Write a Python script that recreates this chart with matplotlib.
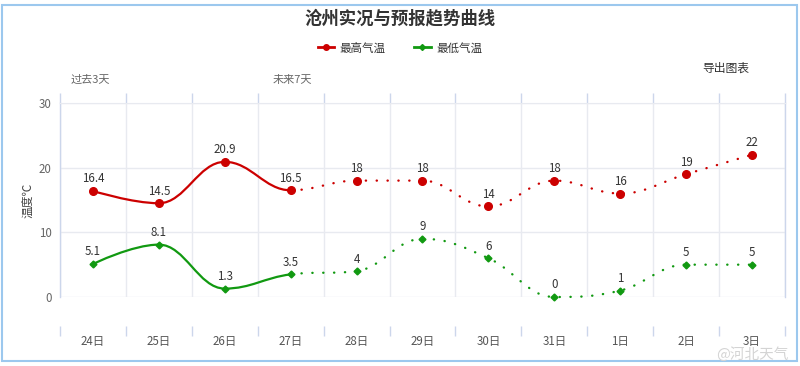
import numpy as np
import matplotlib
matplotlib.use('Agg')
import matplotlib.pyplot as plt
from matplotlib.path import Path
from matplotlib.patches import PathPatch, Rectangle
from matplotlib.lines import Line2D

plt.rcParams['font.family'] = ['Noto Sans CJK SC', 'DejaVu Sans']

# data
days = ['24日', '25日', '26日', '27日', '28日', '29日', '30日', '31日', '1日', '2日', '3日']
high = [16.4, 14.5, 20.9, 16.5, 18, 18, 14, 18, 16, 19, 22]
low = [5.1, 8.1, 1.3, 3.5, 4, 9, 6, 0, 1, 5, 5]
n_past = 4  # first 4 points are observed (solid), rest are forecast (dotted)

RED = '#cc0000'
GREEN = '#119911'
GRID = '#e8eaf0'
AXIS = '#ccd6eb'


# Highcharts-like spline: returns list of bezier segments
def spline_segments(xs, ys, smoothing=1.5):
    n = len(xs)
    right = [None] * n
    left = [None] * n
    denom = smoothing + 1
    for i in range(1, n - 1):
        px, py = xs[i], ys[i]
        lx, ly = xs[i - 1], ys[i - 1]
        nx, ny = xs[i + 1], ys[i + 1]
        lcx = (smoothing * px + lx) / denom
        lcy = (smoothing * py + ly) / denom
        rcx = (smoothing * px + nx) / denom
        rcy = (smoothing * py + ny) / denom
        corr = 0
        if rcx != lcx:
            corr = (rcy - lcy) * (rcx - px) / (rcx - lcx) + py - rcy
        lcy += corr
        rcy += corr
        if lcy > ly and lcy > py:
            lcy = max(ly, py)
            rcy = 2 * py - lcy
        elif lcy < ly and lcy < py:
            lcy = min(ly, py)
            rcy = 2 * py - lcy
        if rcy > ny and rcy > py:
            rcy = max(ny, py)
            lcy = 2 * py - rcy
        elif rcy < ny and rcy < py:
            rcy = min(ny, py)
            lcy = 2 * py - rcy
        left[i] = (lcx, lcy)
        right[i] = (rcx, rcy)
    segs = []
    for i in range(1, n):
        p0 = (xs[i - 1], ys[i - 1])
        c1 = right[i - 1] if right[i - 1] is not None else p0
        p3 = (xs[i], ys[i])
        c2 = left[i] if left[i] is not None else p3
        segs.append((p0, c1, c2, p3))
    return segs


def seg_path(segs):
    verts = [segs[0][0]]
    codes = [Path.MOVETO]
    for s in segs:
        verts += [s[1], s[2], s[3]]
        codes += [Path.CURVE4] * 3
    return Path(verts, codes)


fig = plt.figure(figsize=(8, 3.66), dpi=100)
ax = fig.add_axes([60 / 800, 1 - 297 / 366, 725 / 800, 194 / 366])

x = np.arange(len(days))
for vals, color, mk, ms in [(high, RED, 'o', 5.5), (low, GREEN, 'D', 3.5)]:
    segs = spline_segments(list(x.astype(float)), list(vals))
    solid = PathPatch(seg_path(segs[:n_past - 1]), fill=False, edgecolor=color,
                      lw=1.6, capstyle='round', zorder=3, clip_on=False)
    dotted = PathPatch(seg_path(segs[n_past - 1:]), fill=False, edgecolor=color,
                       lw=1.7, linestyle=(0, (0.1, 4.5)), capstyle='round',
                       zorder=3, clip_on=False)
    ax.add_patch(solid)
    ax.add_patch(dotted)
    ax.plot(x, vals, linestyle='none', marker=mk, color=color, ms=ms,
            zorder=4, clip_on=False)
    for xi, v in zip(x, vals):
        ax.annotate(f'{v:g}', (xi, v), xytext=(0, 4), textcoords='offset points',
                    ha='center', va='bottom', fontsize=8.3, color='#333333', zorder=5)

ax.set_xlim(-0.5, len(days) - 0.5)
ax.set_ylim(0, 30)
ax.set_yticks([0, 10, 20, 30])
ax.set_xticks(x)
ax.set_xticklabels(days)
ax.set_xticks(np.arange(len(days) + 1) - 0.5, minor=True)

ax.grid(True, axis='y', color=GRID, lw=1)
ax.grid(True, axis='x', which='minor', color=GRID, lw=1)
ax.set_axisbelow(True)

for side in ['left', 'right']:
    ax.spines[side].set_color(AXIS)
    ax.spines[side].set_linewidth(1)
ax.spines['top'].set_color(GRID)
ax.spines['bottom'].set_position(('outward', 21))
ax.spines['bottom'].set_color('none')

ax.tick_params(axis='x', which='major', length=0, pad=6, labelsize=8.3, labelcolor='#555555')
ax.tick_params(axis='x', which='minor', direction='out', length=7.5, width=1,
               color=AXIS, top=True, bottom=True)
ax.tick_params(axis='y', length=0, pad=6, labelsize=8.3, labelcolor='#666666')

ax.set_ylabel('温度℃', fontsize=8.5, color='#444444', labelpad=3)

fig.text(0.5, 1 - 18 / 366, '沧州实况与预报趋势曲线', ha='center', va='center',
         fontsize=12.5, fontweight='bold', color='#333333')
fig.text(90 / 800, 1 - 80 / 366, '过去3天', ha='center', va='center',
         fontsize=8, color='#666666')
fig.text(292 / 800, 1 - 80 / 366, '未来7天', ha='center', va='center',
         fontsize=8, color='#666666')
fig.text(726 / 800, 1 - 68 / 366, '导出图表', ha='center', va='center',
         fontsize=8.5, color='#333333')

handles = [Line2D([], [], color=RED, lw=2, marker='o', ms=4),
           Line2D([], [], color=GREEN, lw=2, marker='D', ms=3)]
fig.legend(handles, ['最高气温', '最低气温'], loc='center', ncol=2,
           bbox_to_anchor=(0.5, 1 - 48 / 366), frameon=False, fontsize=8.3,
           handlelength=1.4, handletextpad=0.5, columnspacing=2.5,
           labelcolor='#333333')

# weibo watermark
fig.text(752 / 800, 1 - 354 / 366, '@河北天气', ha='center', va='center',
         fontsize=10.5, color='#d4d4d4', zorder=10)

# outer frame
fig.patches.append(Rectangle((2 / 800, 5 / 366), 795 / 800, 356 / 366,
                             transform=fig.transFigure, fill=False,
                             edgecolor='#9cc8ee', lw=1.5))

fig.savefig('out.png', dpi=100)
